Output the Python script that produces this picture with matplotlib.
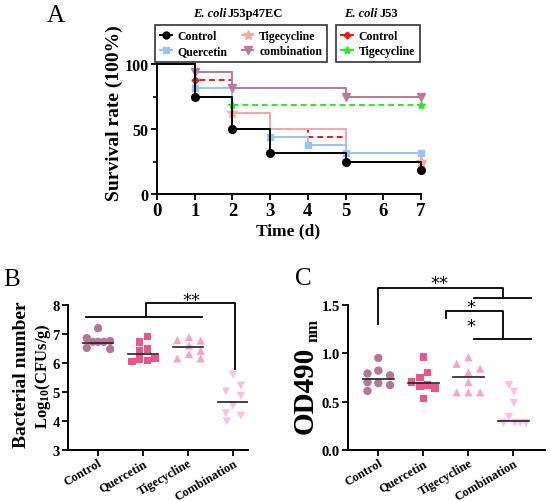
import matplotlib
matplotlib.use("Agg")
import matplotlib.pyplot as plt
from matplotlib.lines import Line2D
import numpy as np

plt.rcParams['font.family'] = ['Liberation Serif', 'DejaVu Serif']
plt.rcParams['font.weight'] = 'bold'
plt.rcParams['mathtext.fontset'] = 'custom'
plt.rcParams['mathtext.rm'] = 'Liberation Serif:bold'
plt.rcParams['mathtext.bf'] = 'Liberation Serif:bold'
plt.rcParams['mathtext.it'] = 'Liberation Serif:italic:bold'

# ---------------- Panel A data (survival, %) ----------------
days = [0, 1, 2, 3, 4, 5, 6, 7]
ctrl_t = [0, 1, 2, 3, 5, 7]
ctrl_s = [100, 75, 50, 31.25, 25, 18.75]
quer_t = [0, 1, 2, 3, 4, 5, 7]
quer_s = [100, 81.25, 50, 43.75, 37.5, 31.25, 31.25]
tige_t = [0, 1, 2, 3, 5, 7]
tige_s = [100, 93.75, 62.5, 50, 31.25, 25]
comb_t = [0, 1, 2, 5, 7]
comb_s = [100, 93.75, 81.25, 75, 75]
j53c_t = [0, 1, 2, 3, 4, 5, 7]
j53c_s = [100, 87.5, 62.5, 50, 43.75, 25, 25]
j53t_t = [0, 1, 2, 7]
j53t_s = [100, 93.75, 68.75, 68.75]

# ---------------- Panel B data (log10 CFU/g) ----------------
groups = ['Control', 'Quercetin', 'Tigecycline', 'Combination']
b_ctrl = [6.86, 6.52, 6.73, 6.73, 7.20, 6.73, 6.76, 6.48]
b_ctrl_dx = [-0.25, -0.25, -0.12, 0.0, 0.0, 0.13, 0.27, 0.27]
b_quer = [6.91, 6.73, 6.48, 6.42, 6.05, 6.14, 6.08, 6.16]
b_quer_dx = [0.10, -0.08, 0.10, -0.08, -0.24, -0.08, 0.10, 0.27]
b_tige = [6.79, 6.89, 6.77, 6.60, 6.42, 6.16, 6.31, 6.16]
b_tige_dx = [-0.24, 0.02, 0.28, 0.02, 0.28, -0.24, 0.02, 0.28]
b_comb = [5.60, 5.22, 5.02, 4.87, 4.53, 4.27, 4.18, 3.99]
b_comb_dx = [0.0, 0.17, -0.16, 0.17, 0.0, -0.16, 0.17, -0.14]
b_lines = [6.70, 6.31, 6.54, 4.67]

# ---------------- Panel C data (OD490 nm) ----------------
c_ctrl = [0.95, 0.79, 0.82, 0.77, 0.70, 0.69, 0.67, 0.61]
c_ctrl_dx = [0.0, -0.24, 0.0, 0.26, -0.24, 0.0, 0.26, -0.24]
c_quer = [0.957, 0.80, 0.75, 0.70, 0.66, 0.67, 0.64, 0.53]
c_quer_dx = [0.0, 0.09, -0.07, -0.26, -0.07, 0.09, 0.26, 0.0]
c_tige = [0.957, 0.89, 0.84, 0.80, 0.70, 0.595, 0.595, 0.595]
c_tige_dx = [0.0, -0.26, 0.26, 0.0, 0.0, -0.26, 0.0, 0.26]
c_comb = [0.67, 0.60, 0.485, 0.34, 0.28, 0.28, 0.28, 0.28]
c_comb_dx = [-0.10, 0.01, 0.01, -0.10, -0.22, 0.03, 0.15, 0.28]
c_lines = [0.73, 0.69, 0.75, 0.30]

W, H = 550, 502
fig = plt.figure(figsize=(W / 100, H / 100), dpi=100)


def ax_px(l, t, r, b):
    return fig.add_axes([l / W, 1 - b / H, (r - l) / W, (b - t) / H])


def fx(x):
    return x / W


def fy(y):
    return 1 - y / H


def style(ax):
    for s in ['top', 'right']:
        ax.spines[s].set_visible(False)
    for s in ['left', 'bottom']:
        ax.spines[s].set_linewidth(1.4)
    ax.tick_params(direction='out', length=4, width=1.3, pad=2)


# ================= Panel A =================
axA = ax_px(157, 65, 421, 195)
style(axA)
series = [
    (j53t_t, j53t_s, '#22EE22', '--', '*', 6, [2, 3], 'Tigecycline', 2),
    (j53c_t, j53c_s, '#FF1010', '--', 'D', 3.5, [1, 6], 'Control', 3),
    (tige_t, tige_s, '#F8A8A8', '-', '*', 7, [2, 5], 'Tigecycline', 4),
    (quer_t, quer_s, '#9CC4F2', '-', 's', 5, [1, 2, 3, 4, 5, 6], 'Quercetin', 5),
    (comb_t, comb_s, '#B97A9C', '-', 'v', 5.5, [1, 2, 3, 4], 'combination', 6),
    (ctrl_t, ctrl_s, '#000000', '-', 'o', 5.5, [1, 2, 3, 4, 5], 'Control', 7),
]
for t, s, col, ls, mk, ms, mev, lab, z in series:
    kw = {}
    if ls == '--':
        kw = dict(dashes=(3, 2), gapcolor='white')
    axA.step(t, s, where='post', color=col, lw=1.4, zorder=z, clip_on=False, **kw)
    axA.plot([t[i] for i in mev], [s[i] for i in mev], ls='none', marker=mk,
             ms=ms, color=col, zorder=z + 0.5, clip_on=False)
axA.set_xlim(0, 7)
axA.set_ylim(0, 100)
axA.set_xticks(days)
axA.set_yticks([0, 50, 100])
axA.set_yticks([25, 75], minor=True)
axA.tick_params(axis='y', which='minor', length=3, width=1.2)
axA.tick_params(axis='x', labelsize=13.5)
axA.tick_params(axis='y', labelsize=11.5)
fig.text(fx(114), fy(113), 'Survival rate (100%)', rotation=90, ha='center',
         va='center', fontsize=14, fontweight='bold')
fig.text(fx(288), fy(231), 'Time (d)', ha='center', va='center', fontsize=12.5,
         fontweight='bold')
fig.text(fx(56), fy(16), 'A', ha='center', va='center', fontsize=18,
         fontweight='normal')


def h(col, mk, ms, ls='-'):
    return Line2D([], [], color=col, marker=mk, ms=ms, lw=1.4, ls=ls)


leg1 = axA.legend([h('#000000', 'o', 5), h('#9CC4F2', 's', 5),
                   h('#F8A8A8', '*', 7), h('#B97A9C', 'v', 5.5)],
                  ['Control', 'Quercetin', 'Tigecycline', 'combination'],
                  ncol=2, loc='upper left',
                  bbox_to_anchor=(fx(155), fy(26)), bbox_transform=fig.transFigure,
                  frameon=True, fancybox=False, edgecolor='black',
                  prop={'size': 8.5, 'weight': 'bold'}, handlelength=1.0,
                  handletextpad=0.5, columnspacing=1.2, borderpad=0.4,
                  labelspacing=0.3, borderaxespad=0)
leg1.get_frame().set_linewidth(1.2)
axA.add_artist(leg1)
leg2 = axA.legend([h('#FF1010', 'D', 3.5), h('#22EE22', '*', 6)],
                  ['Control', 'Tigecycline'], ncol=1, loc='upper left',
                  bbox_to_anchor=(fx(336), fy(26)), bbox_transform=fig.transFigure,
                  frameon=True, fancybox=False, edgecolor='black',
                  prop={'size': 8.5, 'weight': 'bold'}, handlelength=1.0,
                  handletextpad=0.5, borderpad=0.4, labelspacing=0.3,
                  borderaxespad=0)
leg2.get_frame().set_linewidth(1.2)

fig.text(fx(226), fy(14), 'E. coli', ha='right', va='center', fontsize=9,
         fontweight='bold', fontstyle='italic')
fig.text(fx(228), fy(14), 'J53p47EC', ha='left', va='center', fontsize=9,
         fontweight='bold')
fig.text(fx(377), fy(14), 'E. coli', ha='right', va='center', fontsize=9,
         fontweight='bold', fontstyle='italic')
fig.text(fx(380), fy(14), 'J53', ha='left', va='center', fontsize=9,
         fontweight='bold')

# ================= Panels B & C =================
cols = ['#B5759A', '#F0528C', '#F7A3CD', '#FFBEDF']
mks = ['o', 's', '^', 'v']
msz = [36, 30, 34, 34]


def dotplot(ax, vals, dxs, lines):
    for i, (v, dx) in enumerate(zip(vals, dxs)):
        ax.scatter(np.array(dx) + i, v, s=msz[i], marker=mks[i], color=cols[i],
                   edgecolors='none', zorder=3, clip_on=False)
        ax.plot([i - 0.34, i + 0.34], [lines[i], lines[i]], color='#222222',
                lw=1.2, zorder=4)
    ax.set_xticks(range(4))
    ax.set_xticklabels(groups, rotation=30, ha='right', rotation_mode='anchor',
                       fontsize=9, fontweight='bold')
    ax.tick_params(axis='x', pad=1)
    ax.tick_params(axis='y', labelsize=10.5)


axB = ax_px(68, 306, 248, 451)
style(axB)
dotplot(axB, [b_ctrl, b_quer, b_tige, b_comb],
        [b_ctrl_dx, b_quer_dx, b_tige_dx, b_comb_dx], b_lines)
axB.set_xlim(-0.667, 3.33)
axB.set_ylim(3, 8)
axB.set_yticks([3, 4, 5, 6, 7, 8])
kwl = dict(color='black', lw=1.3, clip_on=False)
axB.plot([-0.27, 2.3], [7.6, 7.6], **kwl)
axB.plot([1.06, 1.06, 3.04, 3.04], [7.6, 8.07, 8.07, 5.79], **kwl)
axB.text(2.08, 8.17, '**', ha='center', va='center', fontsize=13,
         fontweight='normal', family='DejaVu Sans')
fig.text(fx(22), fy(375), 'Bacterial number', rotation=90, ha='center',
         va='center', fontsize=14, fontweight='bold')
fig.text(fx(43), fy(376), r'Log$_{10}$(CFUs/g)', rotation=90, ha='center',
         va='center', fontsize=12, fontweight='bold')
fig.text(fx(12), fy(280), 'B', ha='center', va='center', fontsize=18,
         fontweight='normal')

axC = ax_px(348, 305.7, 545, 451)
style(axC)
dotplot(axC, [c_ctrl, c_quer, c_tige, c_comb],
        [c_ctrl_dx, c_quer_dx, c_tige_dx, c_comb_dx], c_lines)
axC.set_xlim(-0.673, 3.70)
axC.set_ylim(0, 1.5)
axC.set_yticks([0, 0.5, 1.0, 1.5])
axC.set_yticklabels(['0.0', '0.5', '1.0', '1.5'])
axC.plot([0, 0, 2.76, 2.76], [1.30, 1.672, 1.672, 1.569], **kwl)
axC.plot([2.13, 3.39], [1.569, 1.569], **kwl)
axC.plot([1.5, 1.5, 2.76, 2.76], [1.36, 1.4375, 1.4375, 1.146], **kwl)
axC.plot([2.13, 3.39], [1.146, 1.146], **kwl)
axC.text(1.35, 1.72, '**', ha='center', va='center', fontsize=13,
         fontweight='normal', family='DejaVu Sans')
axC.text(2.06, 1.48, '*', ha='center', va='center', fontsize=13,
         fontweight='normal', family='DejaVu Sans')
axC.text(2.06, 1.28, '*', ha='center', va='center', fontsize=13,
         fontweight='normal', family='DejaVu Sans')
fig.text(fx(305), fy(390), 'OD490', rotation=90, ha='center', va='center',
         fontsize=21, fontweight='bold')
fig.text(fx(313), fy(330), 'nm', rotation=90, ha='center', va='center',
         fontsize=12, fontweight='bold')
fig.text(fx(303), fy(279), 'C', ha='center', va='center', fontsize=18,
         fontweight='normal')

fig.savefig('out.png', dpi=100)
